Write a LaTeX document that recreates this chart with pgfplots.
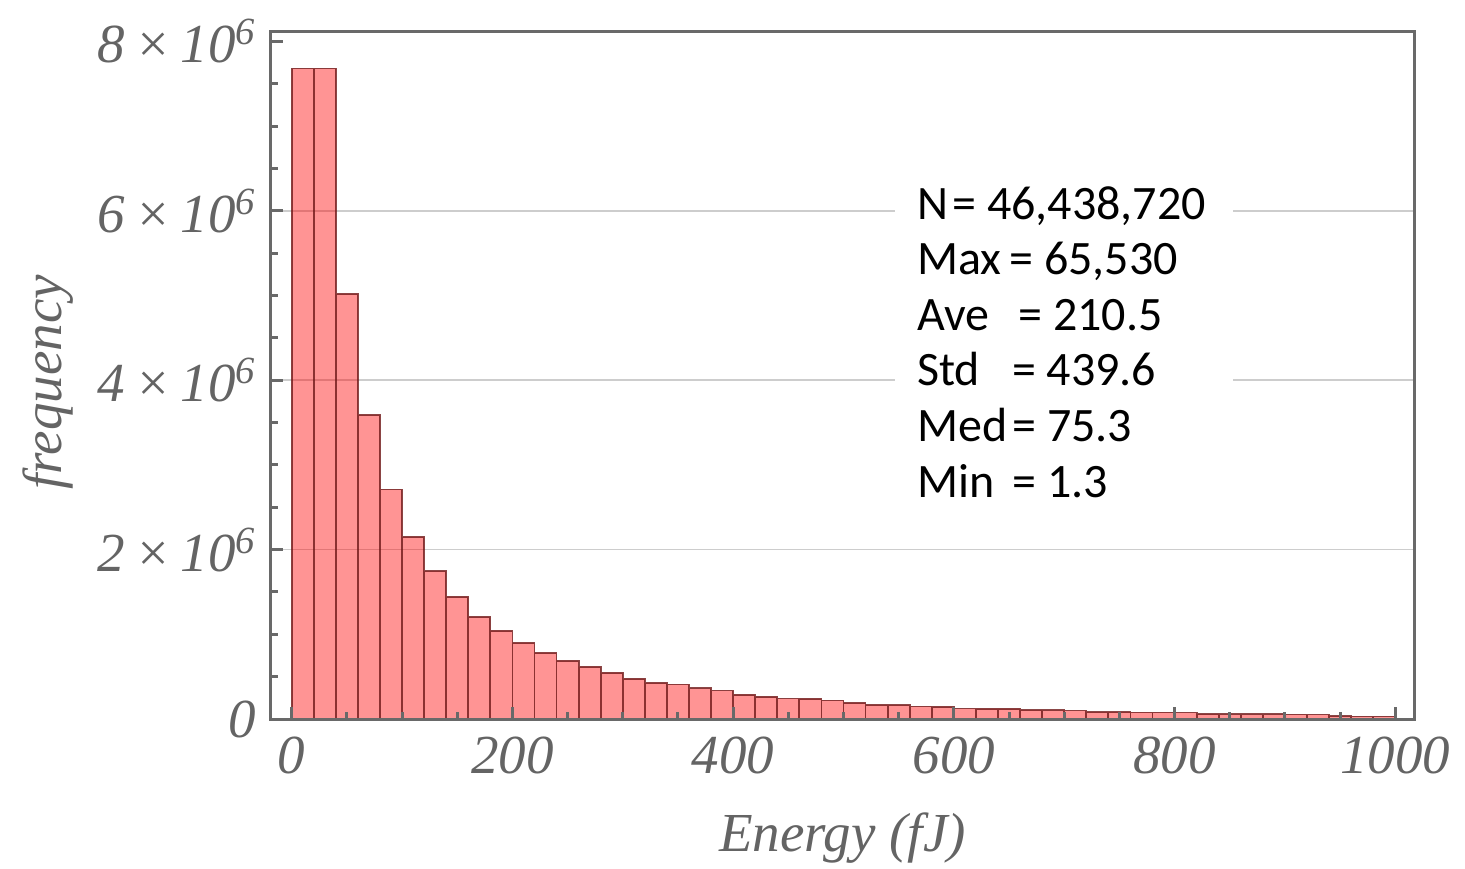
\documentclass[border=0pt]{standalone}
\usepackage{fontspec}
\setmainfont{Liberation Serif}
\newfontfamily\calibri{Carlito}
\usepackage{pgfplots}
\pgfplotsset{compat=1.18}
\definecolor{axgray}{RGB}{105,105,105}
\definecolor{lblgray}{RGB}{100,100,100}
\definecolor{gridgray}{RGB}{205,205,205}
\definecolor{edgered}{RGB}{110,25,25}

\begin{document}
\begin{tikzpicture}
\begin{axis}[
  width=571.5pt, height=343.5pt, scale only axis,
  xmin=-18.8, xmax=1017, ymin=0, ymax=8.11e6,
  axis on top,
  axis line style={axgray, line width=1.5pt},
  tick style={axgray, line width=1.5pt},
  xtick={0,200,...,1000},
  xticklabels={0,200,400,600,800,1000},
  minor x tick num=3,
  ytick={0,2e6,4e6,6e6,8e6},
  yticklabels={0,
    2\,×\,10\textsuperscript{6},
    4\,×\,10\textsuperscript{6},
    6\,×\,10\textsuperscript{6},
    8\,×\,10\textsuperscript{6}},
  minor y tick num=3,
  scaled y ticks=false,
  xtick pos=bottom, ytick pos=left,
  major tick length=6pt, minor tick length=3.5pt,
  tick label style={font=\fontsize{27.5}{30}\selectfont\itshape, text=lblgray},
  yticklabel style={xshift=-4pt},
  xticklabel style={yshift=-5.5pt},
  xlabel={Energy (fJ)}, ylabel={frequency},
  label style={font=\fontsize{27.5}{30}\selectfont\itshape, text=lblgray},
  xlabel style={at={(axis description cs:0.5,-0.173)}, anchor=center},
  ylabel style={at={(axis description cs:-0.195,0.49)}, anchor=center},
]
\coordinate (o) at (rel axis cs:0,0);
% horizontal grid lines
\draw[gridgray, line width=0.9pt] (axis cs:-18.8,2e6) -- (axis cs:1017,2e6);
\draw[gridgray, line width=0.9pt] (axis cs:-18.8,4e6) -- (axis cs:1017,4e6);
\draw[gridgray, line width=0.9pt] (axis cs:-18.8,6e6) -- (axis cs:1017,6e6);

\addplot[ybar, bar width=20, bar shift=0pt, fill=red, fill opacity=0.42,
  draw=edgered, draw opacity=0.8, line width=0.9pt] coordinates {
(10,7.68e6) (30,7.68e6) (50,5.02e6) (70,3.59e6) (90,2.71e6)
(110,2.15e6) (130,1.746e6) (150,1.444e6) (170,1.205e6) (190,1.042e6)
(210,0.900e6) (230,0.782e6) (250,0.689e6) (270,0.618e6) (290,0.547e6)
(310,0.476e6) (330,0.428e6) (350,0.408e6) (370,0.363e6) (390,0.336e6)
(410,0.287e6) (430,0.263e6) (450,0.242e6) (470,0.240e6) (490,0.219e6)
(510,0.191e6) (530,0.167e6) (550,0.165e6) (570,0.148e6) (590,0.146e6)
(610,0.124e6) (630,0.122e6) (650,0.122e6) (670,0.104e6) (690,0.102e6)
(710,0.100e6) (730,0.080e6) (750,0.080e6) (770,0.078e6) (790,0.077e6)
(810,0.076e6) (830,0.057e6) (850,0.056e6) (870,0.055e6) (890,0.055e6)
(910,0.054e6) (930,0.053e6) (950,0.035e6) (970,0.030e6) (990,0.030e6)
};

\fill[white] (axis cs:547,2.45e6) rectangle (axis cs:853,6.45e6);
\begin{scope}[every node/.style={anchor=base west, inner sep=0pt,
    font=\calibri\fontsize{24}{28}\selectfont, text=black}]
\node at (axis cs:566.5,5.900e6) {\makebox[17.6pt][l]{N}= 46,438,720};
\node at (axis cs:566.5,5.244e6) {\makebox[46pt][l]{Max}= 65,530};
\node at (axis cs:566.5,4.588e6) {\makebox[50.5pt][l]{Ave}= 210.5};
\node at (axis cs:566.5,3.932e6) {\makebox[47.4pt][l]{Std}= 439.6};
\node at (axis cs:566.5,3.276e6) {\makebox[47.6pt][l]{Med}= 75.3};
\node at (axis cs:566.5,2.620e6) {\makebox[47.6pt][l]{Min}= 1.3};
\end{scope}
\end{axis}
\pgfresetboundingbox
\useasboundingbox (o) ++(-135.5pt,-74.5pt) rectangle ++(732.5pt,434pt);
\end{tikzpicture}
\end{document}
